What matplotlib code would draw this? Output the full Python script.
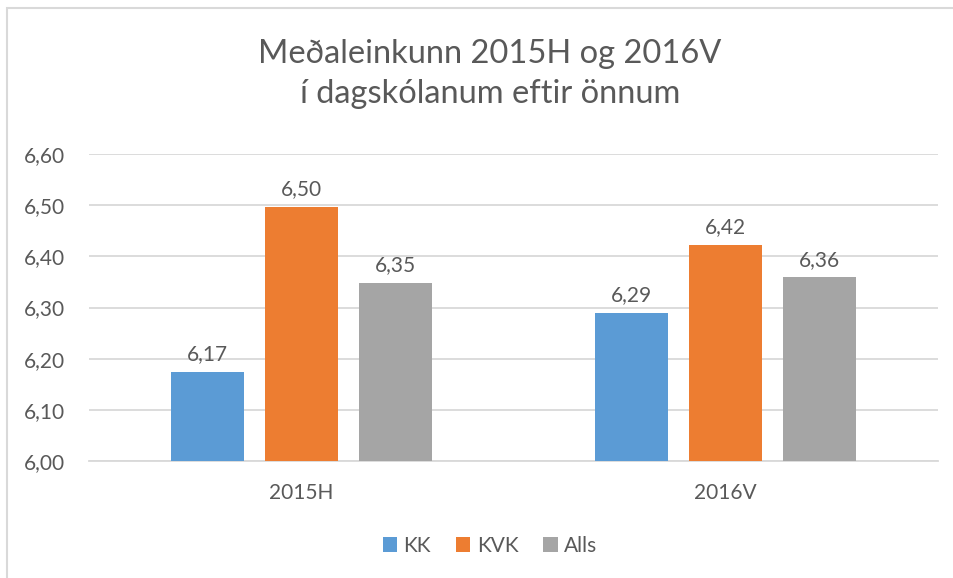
import numpy as np
import matplotlib.pyplot as plt
from matplotlib.patches import Rectangle

plt.rcParams['font.family'] = ['Lato', 'DejaVu Sans']

categories = ["2015H", "2016V"]
series_names = ["KK", "KVK", "Alls"]
kk = [6.174, 6.289]
kvk = [6.496, 6.423]
alls = [6.348, 6.359]
yticks = [6.00, 6.10, 6.20, 6.30, 6.40, 6.50, 6.60]

colors = ["#5B9BD5", "#ED7D31", "#A5A5A5"]
text_color = "#595959"

fig = plt.figure(figsize=(9.54, 5.78), dpi=100)
ax = fig.add_axes([89 / 954, 1 - 461 / 578, 849 / 954, 307 / 578])

x = np.arange(len(categories))
width = 0.172
offset = 0.221
for i, (vals, name) in enumerate(zip([kk, kvk, alls], series_names)):
    pos = x + (i - 1) * offset
    ax.bar(pos, np.array(vals) - 6.0, width, bottom=6.0,
           color=colors[i], label=name, zorder=3)
    for xp, v in zip(pos, vals):
        ax.text(xp, v + 0.015, f"{v:.2f}".replace(".", ","), ha="center",
                va="bottom", fontsize=15, color=text_color)

ax.set_xlim(-0.5, 1.5)
ax.set_ylim(6.0, 6.6)
ax.set_yticks(yticks)
ax.set_yticklabels([f"{t:.2f}".replace(".", ",") for t in yticks])
ax.set_xticks(x)
ax.set_xticklabels(categories)
ax.tick_params(axis="both", length=0, labelsize=15, colors=text_color)
ax.tick_params(axis="y", pad=17)
ax.tick_params(axis="x", pad=16)
ax.grid(axis="y", color="#D9D9D9", linewidth=1.3, zorder=0)
for s in ["top", "right", "left"]:
    ax.spines[s].set_visible(False)
ax.spines["bottom"].set_color("#D9D9D9")
ax.spines["bottom"].set_linewidth(1.3)

fig.text(490 / 954, 1 - 74 / 578, "Meðaleinkunn 2015H og 2016V\ní dagskólanum eftir önnum",
         ha="center", va="center", fontsize=23.5, color=text_color, linespacing=1.45)

ax.legend(loc="center", bbox_to_anchor=(490 / 954, 1 - 546 / 578),
          bbox_transform=fig.transFigure, ncol=3, frameon=False, fontsize=15,
          handlelength=0.7, handleheight=0.7, handletextpad=0.3, columnspacing=1.2,
          labelcolor=text_color)

fig.patches.append(Rectangle((7 / 954, -0.1), 1.2, 1 - 8 / 578 + 0.1,
                             transform=fig.transFigure, fill=False,
                             edgecolor="#D9D9D9", linewidth=1.5))

fig.savefig("out.png", dpi=100)
